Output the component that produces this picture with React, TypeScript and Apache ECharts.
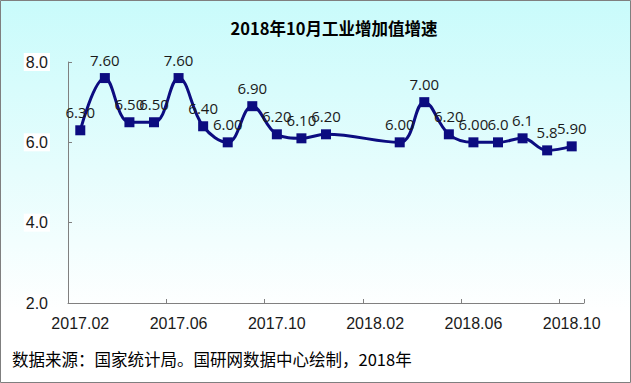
import React, { useEffect, useRef } from "react";
import * as echarts from "echarts";

const categories = [
  "2017.02", "2017.03", "2017.04", "2017.05", "2017.06", "2017.07", "2017.08",
  "2017.09", "2017.10", "2017.11", "2017.12", "2018.01", "2018.02", "2018.03",
  "2018.04", "2018.05", "2018.06", "2018.07", "2018.08", "2018.09", "2018.10",
];
const values: (number | null)[] = [
  6.3, 7.6, 6.5, 6.5, 7.6, 6.4, 6.0, 6.9, 6.2, 6.1, 6.2, null, null, 6.0,
  7.0, 6.2, 6.0, 6.0, 6.1, 5.8, 5.9,
];
const labelTexts = [
  "6.30", "7.60", "6.50", "6.50", "7.60", "6.40", "6.00", "6.90", "6.20", "6.10",
  "6.20", "", "", "6.00", "7.00", "6.20", "6.00", "6.0", "6.1", "5.8", "5.90",
];
const yTicks = { min: 2, max: 8, interval: 2 };
const titleText = "2018年10月工业增加值增速";
const footerText = "数据来源：国家统计局。国研网数据中心绘制，2018年";

export default function App() {
  const ref = useRef<HTMLDivElement>(null);
  useEffect(() => {
    if (!ref.current) return;
    const chart = echarts.init(ref.current, null, { renderer: "svg" });
    const navy = "#0c0c80";
    chart.setOption({
      animation: false,
      grid: { left: 68, right: 47, top: 62, bottom: 80, containLabel: false },
      graphic: [
        {
          type: "rect",
          shape: { x: 0.5, y: 0.5, width: 630, height: 382 },
          style: { fill: "none", stroke: "#7f7f7f", lineWidth: 1 },
          silent: true,
        },
        {
          type: "text",
          x: 334,
          y: 28,
          style: {
            text: titleText,
            align: "center",
            verticalAlign: "middle",
            fontSize: 16.5,
            fontWeight: "bold",
            fontFamily: "'Noto Sans CJK SC', 'Liberation Sans', sans-serif",
            fill: "#000",
          },
        },
        {
          type: "text",
          x: 12,
          y: 359,
          style: {
            text: footerText,
            align: "left",
            verticalAlign: "middle",
            fontSize: 16.5,
            fontFamily: "'Noto Sans CJK SC', sans-serif",
            fill: "#000",
          },
        },
      ],
      xAxis: {
        type: "category",
        data: categories,
        boundaryGap: true,
        axisLine: { show: true, lineStyle: { color: "#808080", width: 1 } },
        axisTick: { show: true, inside: true, length: 4, interval: 3, lineStyle: { color: "#808080" } },
        axisLabel: {
          interval: 3,
          fontSize: 16,
          fontFamily: "'Liberation Sans', Arial, sans-serif",
          color: "#1a1a1a",
          margin: 12,
        },
        splitLine: { show: false },
      },
      yAxis: {
        type: "value",
        min: yTicks.min,
        max: yTicks.max,
        interval: yTicks.interval,
        axisLine: { show: true, lineStyle: { color: "#808080", width: 1 } },
        axisTick: { show: true, inside: true, length: 4, lineStyle: { color: "#808080" } },
        splitLine: { show: false },
        axisLabel: {
          formatter: (v: number) => v.toFixed(1),
          fontSize: 16,
          fontFamily: "'Liberation Sans', Arial, sans-serif",
          color: "#1a1a1a",
          backgroundColor: "#ffffff",
          padding: [1, 2],
          margin: 18,
        },
      },
      series: [
        {
          type: "line",
          data: values.map((v) => (v === null ? "-" : v)),
          connectNulls: true,
          smooth: 0.4,
          symbol: "rect",
          symbolSize: 10,
          itemStyle: { color: navy },
          lineStyle: { color: navy, width: 3 },
          label: {
            show: true,
            position: "top",
            distance: 6,
            fontSize: 15,
            fontFamily: "'Open Sans', 'Noto Sans', sans-serif",
            color: "#1a1a1a",
            formatter: (p: any) => labelTexts[p.dataIndex],
          },
          z: 3,
        },
      ],
    });
    return () => chart.dispose();
  }, []);
  return (
    <div
      ref={ref}
      style={{
        position: "fixed",
        left: 0,
        top: 0,
        width: 631,
        height: 383,
        background: "linear-gradient(to bottom, #c9fbfb 0%, #e6fdfd 45%, #ffffff 82%, #ffffff 100%)",
      }}
    />
  );
}
